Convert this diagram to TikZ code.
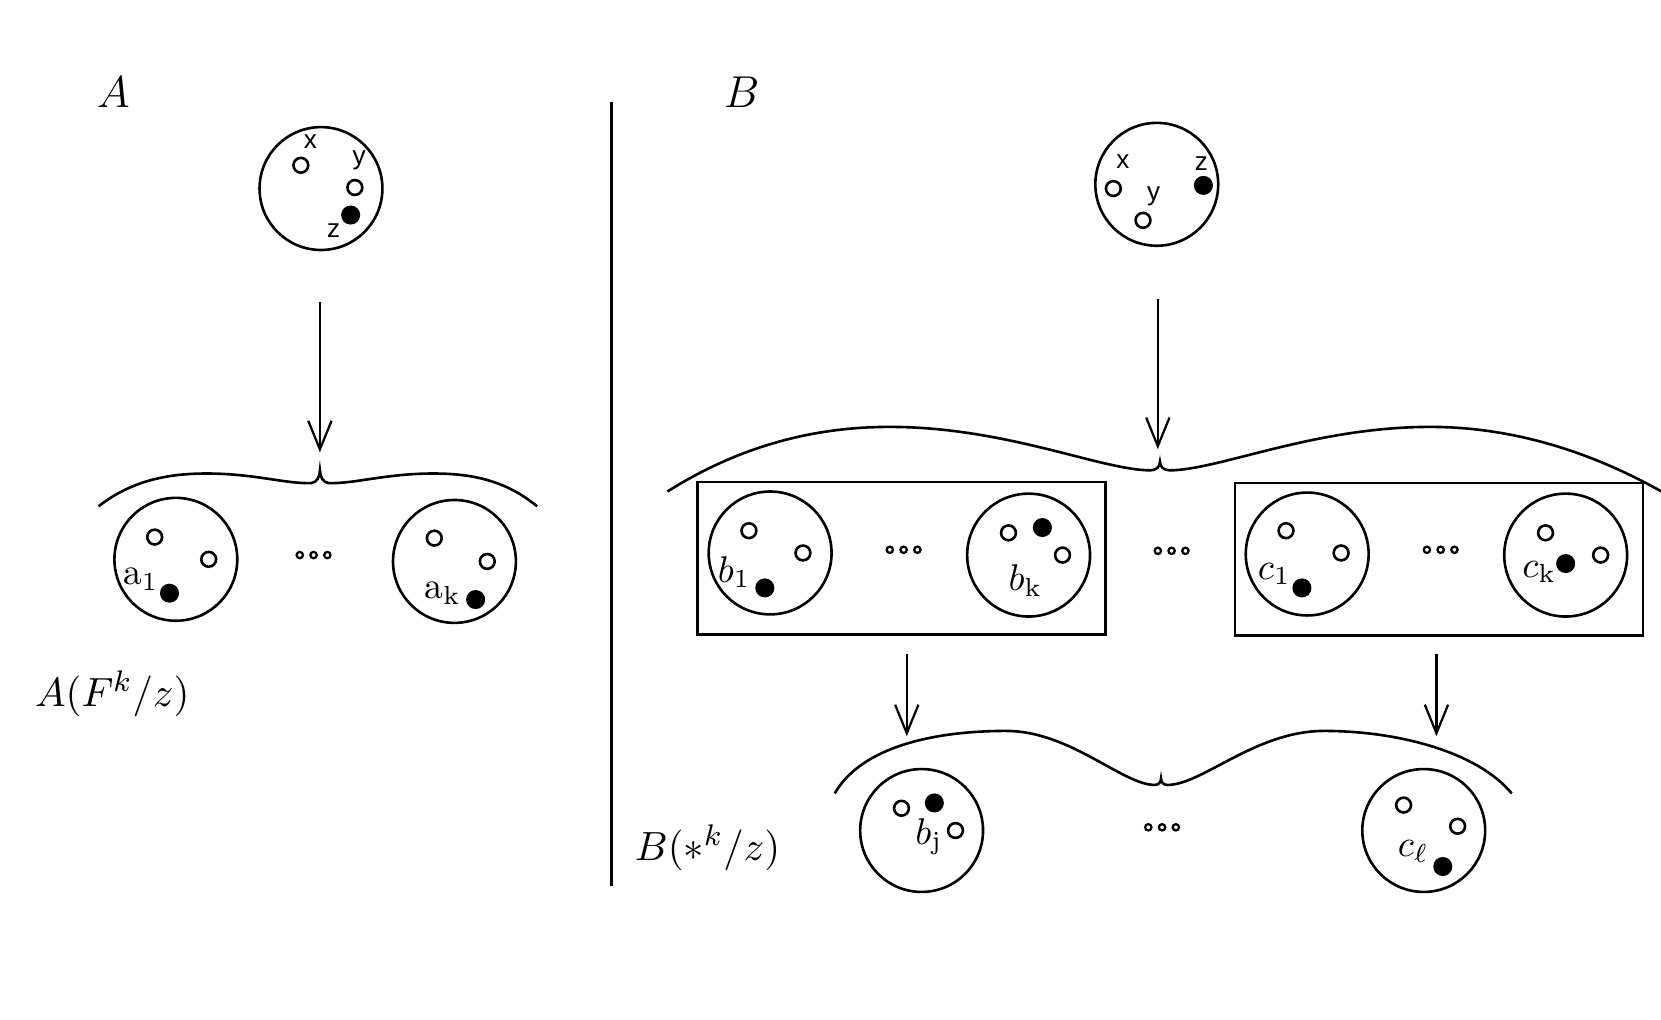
\documentclass[tikz,border=0pt]{standalone}
\usepackage{amsmath,amssymb}
\usepackage{fontspec}
\newfontfamily\lblfont{Liberation Sans}
\usepackage{tikz}
\usetikzlibrary{arrows.meta,positioning}

\tikzset{
  blob/.style={circle,draw,line width=0.7pt,minimum size=1.16cm,inner sep=0pt},
  hole/.style={circle,draw,line width=0.7pt,minimum size=0.14cm,inner sep=0pt},
  pin/.style={circle,fill,minimum size=0.18cm,inner sep=0pt},
  ptlabel/.style={font=\lblfont\fontsize{7}{8}\selectfont,inner sep=0pt},
  eltlabel/.style={font=\fontsize{10}{12}\selectfont,inner sep=0pt},
  biglabel/.style={font=\fontsize{11.6}{14}\selectfont,inner sep=0pt},
  reslabel/.style={font=\fontsize{11}{13}\selectfont,inner sep=0pt},
  grp/.style={draw,line width=0.7pt,inner sep=0pt},
  arr/.style={line width=0.6pt,-{Straight Barb[length=0.27cm,width=0.22cm]}},
  brc/.style={line width=0.7pt}
}

\begin{document}
\begin{tikzpicture}[x=1cm,y=-1cm]
  \useasboundingbox (0,0) rectangle (15.68,9.62);
  % panel names and divider
  \node[biglabel] (nameA) at (1.07,0.87) {$A$};
  \node[biglabel] (nameB) at (7.00,0.87) {$B$};
  \coordinate (divtop) at (5.77,0.96);
  \coordinate (divbot) at (5.77,8.36);
  \draw[line width=0.7pt] (divtop) -- (divbot);

  % left: point with x, y, z
  \node[blob] (topA) at (3.03,1.78) {};
  \node[hole] (xA) at (2.84,1.56) {};
  \node[hole] (yA) at (3.35,1.77) {};
  \node[pin] (zA) at (3.31,2.03) {};
  \node[ptlabel] (xAl) at (2.93,1.34) {x};
  \node[ptlabel] (yAl) at (3.39,1.51) {y};
  \node[ptlabel] (zAl) at (3.15,2.18) {z};
  \coordinate (outA) at (3.02,2.85);
  \coordinate (inA) at (3.02,4.27);
  \draw[arr] (outA) -- (inA);
  % brace over a_1 ... a_k
  \draw[brc] (0.93,4.78) .. controls (1.25,4.53) and (1.60,4.47) .. (1.95,4.47)
    .. controls (2.40,4.47) and (2.70,4.57) .. (2.94,4.56)
    .. controls (2.99,4.555) and (3.02,4.50) .. (3.02,4.44)
    .. controls (3.02,4.50) and (3.05,4.555) .. (3.10,4.56)
    .. controls (3.34,4.57) and (3.64,4.47) .. (4.09,4.47)
    .. controls (4.44,4.47) and (4.77,4.53) .. (5.07,4.78);
  \node[blob] (pa1) at (1.66,5.28) {};
  \node[hole] (pa1x) at (1.46,5.07) {};
  \node[hole] (pa1y) at (1.97,5.28) {};
  \node[pin] (pa1z) at (1.60,5.60) {};
  \node[eltlabel] (pa1l) at (1.33,5.47) {$\mathrm{a}_1$};
  \coordinate (dotsA) at (2.96,5.24);
  \foreach \dx in {-0.13,0,0.13}
    \draw[line width=0.6pt] ([xshift=\dx cm]dotsA) circle (0.03);
  \node[blob] (pak) at (4.29,5.30) {};
  \node[hole] (pakx) at (4.10,5.08) {};
  \node[hole] (paky) at (4.60,5.30) {};
  \node[pin] (pakz) at (4.49,5.66) {};
  \node[eltlabel] (pakl) at (4.18,5.60) {$\mathrm{a}_\mathrm{k}$};
  \node[reslabel] (resA) at (1.06,6.55) {$A(F^k/z)$};

  % right: point with x, y, z
  \node[blob] (topB) at (10.92,1.74) {};
  \node[hole] (xB) at (10.51,1.78) {};
  \node[hole] (yB) at (10.79,2.08) {};
  \node[pin] (zB) at (11.36,1.75) {};
  \node[ptlabel] (xBl) at (10.60,1.53) {x};
  \node[ptlabel] (yBl) at (10.89,1.85) {y};
  \node[ptlabel] (zBl) at (11.34,1.54) {z};
  \coordinate (outB) at (10.93,2.82);
  \coordinate (inB) at (10.93,4.24);
  \draw[arr] (outB) -- (inB);
  % brace over both groups
  \draw[brc] (6.30,4.64) .. controls (7.00,4.20) and (7.70,4.03) .. (8.40,4.03)
    .. controls (9.50,4.03) and (10.40,4.44) .. (10.86,4.44)
    .. controls (10.92,4.44) and (10.95,4.40) .. (10.95,4.36)
    .. controls (10.95,4.40) and (10.98,4.44) .. (11.04,4.44)
    .. controls (11.50,4.44) and (12.40,4.03) .. (13.50,4.03)
    .. controls (14.20,4.03) and (14.95,4.22) .. (15.72,4.66);
  % group of b's
  \node[grp,minimum width=3.85cm,minimum height=1.44cm] (grpB) at (8.51,5.27) {};
  \node[blob] (pb1) at (7.27,5.22) {};
  \node[hole] (pb1x) at (7.07,5.01) {};
  \node[hole] (pb1y) at (7.58,5.22) {};
  \node[pin] (pb1z) at (7.22,5.55) {};
  \node[eltlabel] (pb1l) at (6.93,5.40) {$b_1$};
  \coordinate (dotsB) at (8.53,5.19);
  \foreach \dx in {-0.13,0,0.13}
    \draw[line width=0.6pt] ([xshift=\dx cm]dotsB) circle (0.03);
  \node[blob] (pbk) at (9.71,5.24) {};
  \node[hole] (pbkx) at (9.52,5.03) {};
  \node[pin] (pbkz) at (9.84,4.98) {};
  \node[hole] (pbky) at (10.03,5.24) {};
  \node[eltlabel] (pbkl) at (9.68,5.48) {$b_\mathrm{k}$};
  \coordinate (dotsM) at (11.06,5.20);
  \foreach \dx in {-0.13,0,0.13}
    \draw[line width=0.6pt] ([xshift=\dx cm]dotsM) circle (0.03);
  % group of c's
  \node[grp,minimum width=3.85cm,minimum height=1.44cm] (grpC) at (13.585,5.28) {};
  \node[blob] (pc1) at (12.34,5.23) {};
  \node[hole] (pc1x) at (12.14,5.01) {};
  \node[hole] (pc1y) at (12.66,5.22) {};
  \node[pin] (pc1z) at (12.29,5.55) {};
  \node[eltlabel] (pc1l) at (12.03,5.42) {$c_1$};
  \coordinate (dotsC) at (13.60,5.19);
  \foreach \dx in {-0.13,0,0.13}
    \draw[line width=0.6pt] ([xshift=\dx cm]dotsC) circle (0.03);
  \node[blob] (pck) at (14.78,5.24) {};
  \node[hole] (pckx) at (14.59,5.03) {};
  \node[pin] (pckz) at (14.78,5.32) {};
  \node[hole] (pcky) at (15.11,5.24) {};
  \node[eltlabel] (pckl) at (14.53,5.40) {$c_\mathrm{k}$};

  % arrows from the groups
  \coordinate (outBb) at (8.56,6.17);
  \coordinate (inBb) at (8.56,6.95);
  \draw[arr] (outBb) -- (inBb);
  \coordinate (outBc) at (13.56,6.17);
  \coordinate (inBc) at (13.56,6.95);
  \draw[arr] (outBc) -- (inBc);
  % lower brace
  \draw[brc] (7.88,7.49) .. controls (8.10,7.10) and (8.70,6.90) .. (9.50,6.90)
    .. controls (10.10,6.90) and (10.60,7.41) .. (10.90,7.41)
    .. controls (10.94,7.41) and (10.96,7.38) .. (10.96,7.35)
    .. controls (10.96,7.38) and (10.98,7.41) .. (11.02,7.41)
    .. controls (11.35,7.41) and (11.85,6.90) .. (12.50,6.90)
    .. controls (13.20,6.90) and (13.95,7.10) .. (14.27,7.49);
  \node[blob] (pbj) at (8.70,7.84) {};
  \node[hole] (pbjx) at (8.51,7.63) {};
  \node[pin] (pbjz) at (8.82,7.58) {};
  \node[hole] (pbjy) at (9.02,7.84) {};
  \node[eltlabel] (pbjl) at (8.77,7.90) {$b_\mathrm{j}$};
  \coordinate (dotsL) at (10.97,7.81);
  \foreach \dx in {-0.13,0,0.13}
    \draw[line width=0.6pt] ([xshift=\dx cm]dotsL) circle (0.03);
  \node[blob] (pcl) at (13.44,7.84) {};
  \node[hole] (pclx) at (13.25,7.60) {};
  \node[hole] (pcly) at (13.76,7.80) {};
  \node[pin] (pclz) at (13.62,8.18) {};
  \node[eltlabel] (pcll) at (13.34,8.04) {$c_\ell$};
  \node[reslabel] (resB) at (6.68,8.00) {$B(\ast^k/z)$};
\end{tikzpicture}
\end{document}
